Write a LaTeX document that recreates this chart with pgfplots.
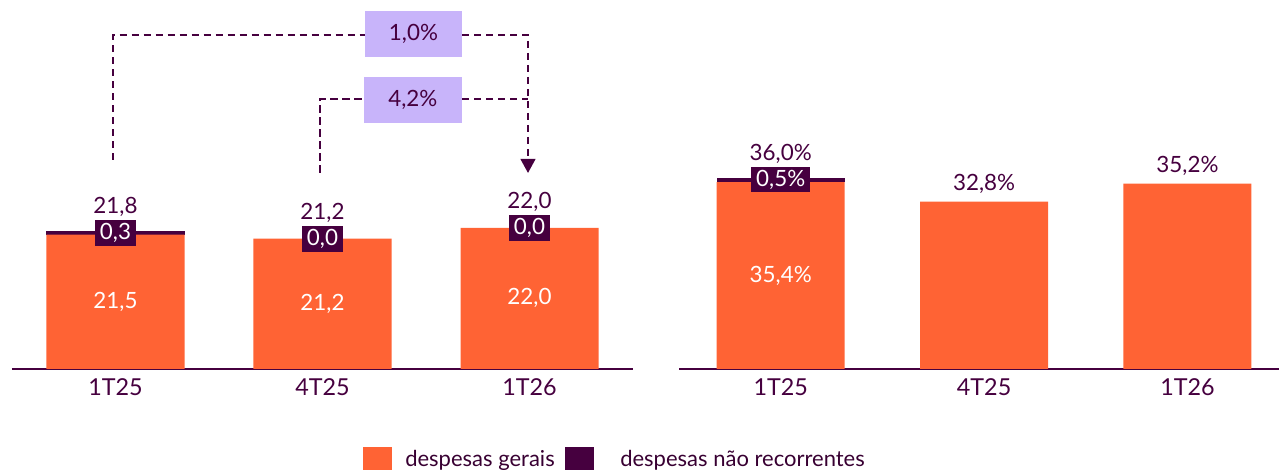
\documentclass[border=0pt]{standalone}
\usepackage{pgfplots}
\pgfplotsset{compat=1.18}
\usetikzlibrary{arrows.meta}
\usepackage{fontspec}
\setmainfont{Lato}
\definecolor{orng}{HTML}{FF6334}
\definecolor{dpurp}{HTML}{46003F}
\definecolor{lav}{HTML}{C8B4FA}
\newcommand{\dlfont}{\fontsize{16.8}{19}\selectfont}
\newcommand{\tlfont}{\fontsize{17.5}{20}\selectfont}
\newcommand{\lgfont}{\fontsize{16.5}{19}\selectfont}
\begin{document}
\begin{tikzpicture}[x=0.75pt,y=0.75pt]
\useasboundingbox (0,0) rectangle (1279,470);
% ---------------- left panel
\begin{axis}[
  at={(9pt,75.75pt)}, anchor=south west,
  scale only axis, width=465.75pt, height=276.75pt,
  xmin=-0.5, xmax=2.5, ymin=11.55, ymax=38.88,
  axis x line=bottom, axis y line=none,
  x axis line style={-, draw=dpurp, line width=1.6pt},
  xtick={0,1,2}, xticklabels={1T25,4T25,1T26},
  major tick length=0pt,
  xticklabel style={font=\tlfont, text=dpurp, yshift=-4pt},
  ybar stacked, bar width=103.5pt,
  clip=false,
]
\addplot[fill=orng, draw=none] coordinates {(0,21.5) (1,21.2) (2,22.0)};
\addplot[fill=dpurp, draw=none] coordinates {(0,0.3) (1,0.0) (2,0.0)};
\coordinate (La) at (axis cs:0,21.65);
\coordinate (Lb) at (axis cs:1,21.2);
\coordinate (Lc) at (axis cs:2,22.0);
\coordinate (Ia) at (axis cs:0,16.5);
\coordinate (Ib) at (axis cs:1,16.4);
\coordinate (Ic) at (axis cs:2,16.78);
\end{axis}
\node[font=\dlfont, text=dpurp] at (La) [yshift=19.5pt] {21,8};
\node[font=\dlfont, text=dpurp] at (Lb) [yshift=19.5pt] {21,2};
\node[font=\dlfont, text=dpurp] at (Lc) [yshift=19.5pt] {22,0};
\node[font=\dlfont, text=white, fill=dpurp, inner sep=0pt, minimum width=30.75pt, minimum height=19.5pt] at (La) {0,3};
\node[font=\dlfont, text=white, fill=dpurp, inner sep=0pt, minimum width=30.75pt, minimum height=19.5pt] at (Lb) {0,0};
\node[font=\dlfont, text=white, fill=dpurp, inner sep=0pt, minimum width=30.75pt, minimum height=19.5pt] at (Lc) {0,0};
\node[font=\dlfont, text=white] at (Ia) {21,5};
\node[font=\dlfont, text=white] at (Ib) {21,2};
\node[font=\dlfont, text=white] at (Ic) {22,0};
% ---------------- right panel
\begin{axis}[
  at={(509.25pt,75.75pt)}, anchor=south west,
  scale only axis, width=450pt, height=276.75pt,
  xmin=-0.5, xmax=2.45, ymin=10.5, ymax=59.7,
  axis x line=bottom, axis y line=none,
  x axis line style={-, draw=dpurp, line width=1.6pt},
  xtick={0,1,2}, xticklabels={1T25,4T25,1T26},
  major tick length=0pt,
  xticklabel style={font=\tlfont, text=dpurp, yshift=-4pt},
  ybar stacked, bar width=96pt,
  clip=false,
]
\addplot[fill=orng, draw=none] coordinates {(0,35.4) (1,32.8) (2,35.2)};
\addplot[fill=dpurp, draw=none] coordinates {(0,0.6) (1,0.0) (2,0.0)};
\coordinate (Ra) at (axis cs:0,35.7);
\coordinate (Rb) at (axis cs:1,32.8);
\coordinate (Rc) at (axis cs:2,35.2);
\coordinate (RI) at (axis cs:0,22.95);
\end{axis}
\node[font=\dlfont, text=dpurp] at (Ra) [yshift=19.8pt] {36,0\%};
\node[font=\dlfont, text=white, fill=dpurp, inner sep=0pt, minimum width=44.25pt, minimum height=18.75pt] at (Ra) {0,5\%};
\node[font=\dlfont, text=white] at (RI) {35,4\%};
\node[font=\dlfont, text=dpurp] at (Rb) [yshift=13.5pt] {32,8\%};
\node[font=\dlfont, text=dpurp] at (Rc) [yshift=13.5pt] {35,2\%};
% ---------------- annotation arrows
\begin{scope}[draw=dpurp, line width=1.5pt, dash pattern=on 5.5pt off 3.5pt]
\draw (112.7,310) -- (112.7,435) -- (365,435);
\draw[-{Triangle[length=10.5pt,width=11pt]}] (462,435) -- (528,435) -- (528,297);
\draw (320,297.3) -- (320,371) -- (364,371);
\draw (462,371) -- (528,371);
\end{scope}
\fill[lav] (365,413.3) rectangle (462,459.3);
\node[font=\dlfont, text=dpurp] at (413.5,436.3) {1,0\%};
\fill[lav] (364,347.3) rectangle (461.7,393.3);
\node[font=\dlfont, text=dpurp] at (412.85,370.3) {4,2\%};
% ---------------- legend
\fill[orng] (363,0) rectangle (392,23);
\node[font=\lgfont, text=dpurp!80!black, anchor=base west, inner sep=0pt] at (405,3.3) {despesas gerais};
\fill[dpurp] (565,0) rectangle (594,23);
\node[font=\lgfont, text=dpurp!80!black, anchor=base west, inner sep=0pt] at (620,3.3) {despesas não recorrentes};
\end{tikzpicture}
\end{document}
